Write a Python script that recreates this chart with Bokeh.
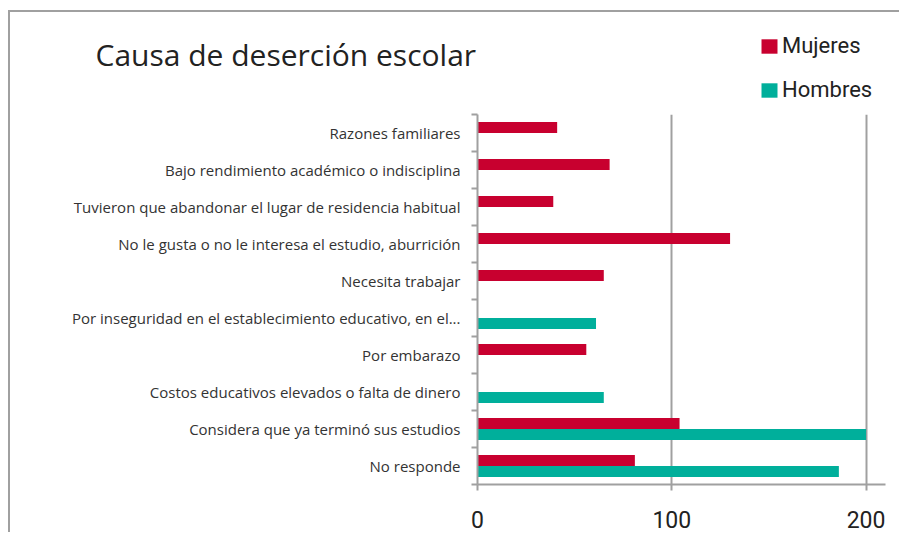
from bokeh.plotting import figure
from bokeh.models import (Range1d, FixedTicker, Legend, LegendItem, ColumnDataSource, Label)
from bokeh.layouts import column
from bokeh.embed import file_html
from bokeh.resources import INLINE

title_text = "Causa de deserción escolar"
categories = [
    "Razones familiares",
    "Bajo rendimiento académico o indisciplina",
    "Tuvieron que abandonar el lugar de residencia habitual",
    "No le gusta o no le interesa el estudio, aburrición",
    "Necesita trabajar",
    "Por inseguridad en el establecimiento educativo, en el...",
    "Por embarazo",
    "Costos educativos elevados o falta de dinero",
    "Considera que ya terminó sus estudios",
    "No responde",
]
series_names = ["Mujeres", "Hombres"]
mujeres = [41, 68, 39, 130, 65, 0, 56, 0, 104, 81]
hombres = [0, 0, 0, 0, 0, 61, 0, 65, 200, 186]
x_ticks = [0, 100, 200]

RED = "#C8002F"
TEAL = "#00AF9B"
GREY = "#A0A0A0"
TEXT = "#222222"
FONT = "Open Sans"
NUMFONT = "Roboto"

W = 889
HEAD_H = 90
MAIN_H = 430

n = len(categories)
centers = [n - i - 0.5 for i in range(n)]
src = ColumnDataSource(dict(
    y_m=[c + 0.15 for c in centers],
    y_h=[c - 0.15 for c in centers],
    mujeres=mujeres,
    hombres=hombres,
))

# ---------- header: title + legend ----------
head = figure(width=W, height=HEAD_H, output_backend="svg", toolbar_location=None,
              x_range=Range1d(0, W), y_range=Range1d(0, HEAD_H),
              x_axis_type=None, y_axis_type=None,
              min_border_left=0, min_border_right=0, min_border_top=0, min_border_bottom=0)
head.frame_align = False
head.outline_line_color = None
head.grid.visible = False
head.background_fill_color = "white"
head.border_fill_color = "white"

head.add_layout(Label(x=85, y=48, text=title_text, text_font=FONT,
                      text_font_size="30px", text_color=TEXT,
                      text_baseline="alphabetic", text_align="left"))

# legend proxies: zero-width bars (nothing visible is drawn in the header)
dm = head.hbar(y="y_m", left=0, right=0, height=0.3, source=src,
               fill_color=RED, line_color=None)
dh = head.hbar(y="y_h", left=0, right=0, height=0.3, source=src,
               fill_color=TEAL, line_color=None)
legend = Legend(items=[LegendItem(label=series_names[0], renderers=[dm]),
                       LegendItem(label=series_names[1], renderers=[dh])],
                location=(749, 0), orientation="vertical")
legend.border_line_color = None
legend.background_fill_alpha = 0
legend.padding = 0
legend.margin = 0
legend.spacing = 19
legend.glyph_width = 20
legend.glyph_height = 18
legend.label_height = 20
legend.label_standoff = 3
legend.label_text_font = NUMFONT
legend.label_text_font_size = "22px"
legend.label_text_color = TEXT
legend.label_text_baseline = "middle"
head.add_layout(legend)

# ---------- main chart ----------
p = figure(width=W, height=MAIN_H, output_backend="svg", toolbar_location=None,
           x_range=Range1d(0, 210), y_range=Range1d(0, n),
           min_border_left=467, min_border_right=14, min_border_top=12, min_border_bottom=48)
p.frame_align = False
p.outline_line_color = None
p.background_fill_color = "white"
p.border_fill_color = "white"

p.hbar(y="y_m", right="mujeres", left=0, height=0.3, source=src,
       fill_color=RED, line_color=None)
p.hbar(y="y_h", right="hombres", left=0, height=0.3, source=src,
       fill_color=TEAL, line_color=None)

xa = p.xaxis[0]
xa.ticker = FixedTicker(ticks=x_ticks, minor_ticks=[])
xa.axis_line_color = GREY
xa.axis_line_width = 2
xa.major_tick_line_color = GREY
xa.major_tick_line_width = 2
xa.major_tick_out = 6
xa.major_tick_in = 0
xa.minor_tick_line_color = None
xa.major_label_text_font = NUMFONT
xa.major_label_text_font_size = "23px"
xa.major_label_text_color = TEXT
xa.major_label_standoff = 20

ya = p.yaxis[0]
ya.ticker = FixedTicker(ticks=centers, minor_ticks=list(range(n + 1)))
ya.major_label_overrides = {c: lab for c, lab in zip(centers, categories)}
ya.axis_line_color = GREY
ya.axis_line_width = 2
ya.major_tick_line_color = None
ya.major_tick_out = 0
ya.major_tick_in = 0
ya.minor_tick_line_color = GREY
ya.minor_tick_line_width = 2
ya.minor_tick_out = 6
ya.minor_tick_in = 0
ya.major_label_text_font = FONT
ya.major_label_text_font_size = "15px"
ya.major_label_text_color = "#333333"
ya.major_label_standoff = 11

p.xgrid.ticker = FixedTicker(ticks=x_ticks)
p.xgrid.grid_line_color = GREY
p.xgrid.grid_line_width = 2
p.ygrid.grid_line_color = None

layout = column(head, p, spacing=0)
layout.styles = {"border-left": f"2px solid {GREY}", "border-top": f"2px solid {GREY}",
                 "margin-left": "8px", "margin-top": "10px"}

open("out.html", "w").write(file_html(layout, INLINE))
